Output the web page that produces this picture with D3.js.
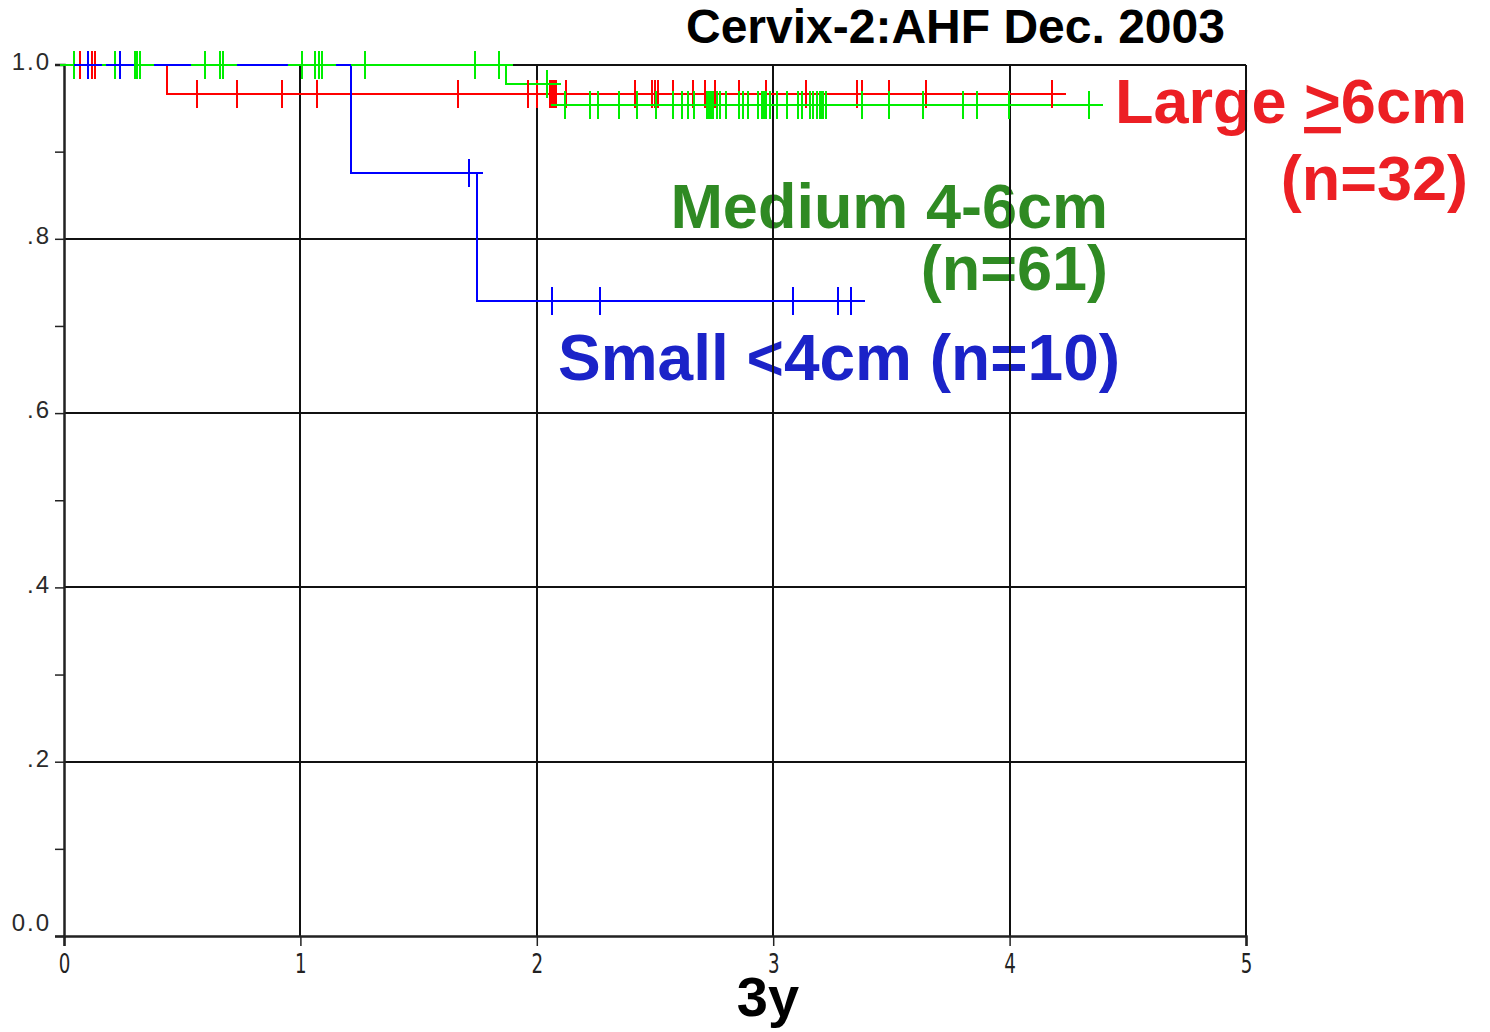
<!DOCTYPE html>
<html>
<head>
<meta charset="utf-8">
<script src="https://cdn.jsdelivr.net/npm/d3@7"></script>
<style>
  body { margin: 0; background: #ffffff; }
</style>
</head>
<body>
<div id="km-container"></div>
<script>
// survival steps [time in years, proportion] and censored times
const smallSteps = [[0, 1], [1.214, 0.875], [1.746, 0.729]];
const smallCensored = [0.101, 0.237, 1.712, 2.063, 2.266, 3.082, 3.273, 3.328];

const mediumSteps = [[0, 1], [1.869, 0.978], [2.063, 0.954]];
const mediumCensored = [
    0.042, 0.216, 0.300, 0.309, 0.321, 0.596, 0.660, 0.672, 1.006, 1.061, 1.078, 1.091, 1.273, 1.738, 1.839,
    2.042,
    2.118, 2.224, 2.258, 2.347, 2.423, 2.503, 2.575, 2.613, 2.638, 2.664, 2.719, 2.727, 2.736, 2.744,
    2.761, 2.774, 2.799, 2.854, 2.871, 2.892, 2.934, 2.951, 2.960, 2.968, 2.985, 3.015, 3.057, 3.104,
    3.121, 3.154, 3.167, 3.184, 3.197, 3.201, 3.209, 3.222, 3.374, 3.488, 3.632, 3.801, 3.860, 3.996, 4.334
];

const largeSteps = [[0, 1], [0.436, 0.966]];
const largeCensored = [
    0.068, 0.118, 0.131, 0.562, 0.732, 0.922, 1.070, 1.666, 1.962, 2.000, 2.055, 2.063, 2.072, 2.080,
    2.123, 2.414, 2.486, 2.499, 2.512, 2.575, 2.660, 2.710, 2.753, 2.854, 2.968, 3.137, 3.353, 3.374,
    3.488, 3.645, 4.178
];

const xTicks = [0, 1, 2, 3, 4, 5];
const xTickLabels = ["0", "1", "2", "3", "4", "5"];
const yTicks = [0, 0.1, 0.2, 0.3, 0.4, 0.5, 0.6, 0.7, 0.8, 0.9, 1.0];
const yMajor = [0, 0.2, 0.4, 0.6, 0.8, 1.0];
const yTickLabels = ["0.0", ".2", ".4", ".6", ".8", "1.0"];

const width = 1490;
const height = 1032;
const plot = { left: 64, right: 1246, top: 64.5, bottom: 936 };

const x = d3.scaleLinear().domain([0, 5]).range([plot.left, plot.right]);
const y = d3.scaleLinear().domain([0, 1]).range([plot.bottom, plot.top]);

const svg = d3
    .select("#km-container")
    .append("svg")
    .attr("width", width)
    .attr("height", height)
    .style("font-family", "'Liberation Sans', Arial, sans-serif");

// group labels (they sit under the grid in the original)
const labels = svg.append("g").attr("font-weight", "bold").attr("font-size", 63);

const large = labels.append("text").attr("x", 1115).attr("y", 123).attr("fill", "#ec1f24");
large.append("tspan").text("Large ");
large.append("tspan").text(">").style("text-decoration", "underline");
large.append("tspan").text("6cm");
labels.append("text").attr("x", 1468).attr("y", 200).attr("text-anchor", "end")
    .attr("fill", "#ec1f24").text("(n=32)");

labels.append("text").attr("x", 1108).attr("y", 228).attr("text-anchor", "end")
    .attr("fill", "#2f8a23").text("Medium 4-6cm");
labels.append("text").attr("x", 1108).attr("y", 290).attr("text-anchor", "end")
    .attr("fill", "#2f8a23").text("(n=61)");

labels.append("text").attr("x", 558).attr("y", 380)
    .attr("font-size", 64)
    .attr("fill", "#1b23c8").text("Small <4cm (n=10)");

// grid
const grid = svg.append("g")
    .attr("stroke", "#111")
    .attr("stroke-width", 2)
    .attr("shape-rendering", "crispEdges");
grid.selectAll(".vgrid")
    .data(xTicks.slice(1))
    .enter()
    .append("line")
    .attr("x1", (d) => x(d)).attr("x2", (d) => x(d))
    .attr("y1", y(0)).attr("y2", y(1));
grid.selectAll(".hgrid")
    .data(yMajor.slice(1))
    .enter()
    .append("line")
    .attr("x1", x(0)).attr("x2", x(5))
    .attr("y1", (d) => y(d)).attr("y2", (d) => y(d));

// axes
const xAxis = svg.append("g")
    .attr("transform", `translate(0, ${plot.bottom})`)
    .call(d3.axisBottom(x).tickValues(xTicks).tickSize(10).tickPadding(8)
        .tickFormat((d, i) => xTickLabels[i]));
xAxis.select(".domain").attr("stroke", "#222").attr("stroke-width", 2.5);
xAxis.selectAll(".tick line").attr("stroke", "#222").attr("stroke-width", 1.5);
xAxis.selectAll(".tick text")
    .attr("fill", "#222")
    .style("font-family", "'Liberation Sans Narrow', 'DejaVu Sans Condensed', sans-serif")
    .style("font-size", "27px")
    .attr("transform", "scale(0.75,1)");

const yAxis = svg.append("g")
    .attr("transform", `translate(${plot.left}, 0)`)
    .call(d3.axisLeft(y).tickValues(yTicks).tickSize(9).tickPadding(4)
        .tickFormat((d) => {
            const i = yMajor.findIndex((v) => Math.abs(v - d) < 1e-6);
            return i >= 0 ? yTickLabels[i] : "";
        }));
yAxis.select(".domain").attr("stroke", "#222").attr("stroke-width", 2.5);
yAxis.selectAll(".tick line").attr("stroke", "#222").attr("stroke-width", 1.5);
yAxis.selectAll(".tick text")
    .attr("fill", "#2a2a2a")
    .style("font-size", "24px")
    .style("letter-spacing", "2px")
    .attr("dy", (d) => (d === 0 ? "-0.25em" : "0.2em"));

// curves
function levelAt(steps, t) {
    let s = steps[0][1];
    steps.forEach(([st, sv]) => { if (t >= st) s = sv; });
    return s;
}

const stepLine = d3.line()
    .x((d) => x(d[0]))
    .y((d) => y(d[1]))
    .curve(d3.curveStepAfter);

const arm = 14;
function drawCurve(steps, censored, color) {
    const last = d3.max(censored);
    const pts = steps.concat([[last, steps[steps.length - 1][1]]]);
    svg.append("path")
        .attr("d", stepLine(pts))
        .attr("fill", "none")
        .attr("stroke", color)
        .attr("stroke-width", 2)
        .attr("shape-rendering", "crispEdges");
}
function drawCensors(steps, censored, color) {
    svg.append("g")
        .selectAll("path")
        .data(censored)
        .enter()
        .append("path")
        .attr("d", (t) => {
            const cx = x(t), cy = y(levelAt(steps, t));
            return `M${cx - arm},${cy}H${cx + arm}M${cx},${cy - arm}V${cy + arm}`;
        })
        .attr("fill", "none")
        .attr("stroke", color)
        .attr("stroke-width", 2)
        .attr("shape-rendering", "crispEdges");
}

drawCurve(mediumSteps, mediumCensored, "#00ee00");
drawCurve(largeSteps, largeCensored, "#ff0000");
drawCensors(largeSteps, largeCensored, "#ff0000");
drawCurve(smallSteps, smallCensored, "#0000ff");
drawCensors(mediumSteps, mediumCensored, "#00ee00");
drawCensors(smallSteps, smallCensored, "#0000ff");

// title and x label
svg.append("text")
    .attr("x", 686).attr("y", 43)
    .attr("font-weight", "bold").attr("font-size", 48)
    .attr("fill", "#000")
    .text("Cervix-2:AHF Dec. 2003");

svg.append("text")
    .attr("x", 768).attr("y", 1016)
    .attr("text-anchor", "middle")
    .attr("font-weight", "bold").attr("font-size", 56)
    .attr("fill", "#000")
    .text("3y");
</script>
</body>
</html>
